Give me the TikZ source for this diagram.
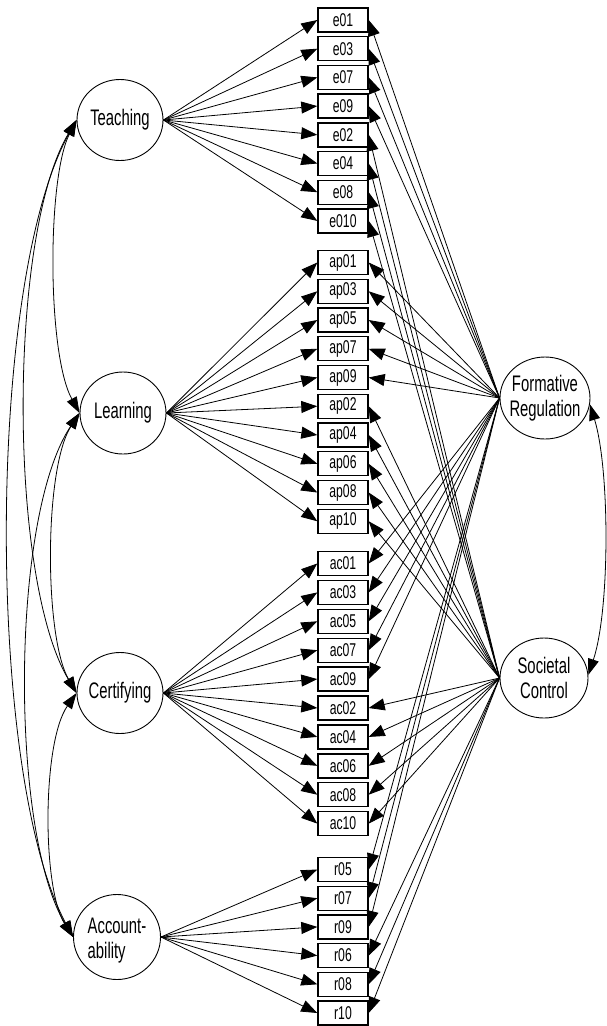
\documentclass[tikz,border=0pt]{standalone}
\usepackage{fontspec}
\setmainfont{Liberation Sans}[FakeStretch=0.66]
\usetikzlibrary{arrows.meta,shapes.geometric}
\begin{document}
\begin{tikzpicture}[x=1pt,y={(0pt,-1pt)},
  ind/.style={draw,fill=white,line width=1.4pt,minimum width=50pt,minimum height=24pt,inner sep=0pt,font=\fontsize{18.5}{20}\selectfont},
  lat/.style={draw,ellipse,line width=0.9pt,inner sep=0pt},
  lbl/.style={inner sep=0pt,font=\fontsize{22.5}{25}\selectfont,align=center},
  arr/.style={line width=0.8pt,-{Triangle[length=16pt,width=12pt]}},
  cov/.style={line width=0.8pt,{Triangle[length=16pt,width=11pt]}-{Triangle[length=16pt,width=11pt]}}
]
\useasboundingbox (0,0) rectangle (606,1026);

% latent variables
\node[lat,minimum width=86pt,minimum height=81pt] (T) at (120,120) {};
\node[lbl] (Tt) at (T) {Teaching};
\node[lat,minimum width=86pt,minimum height=82pt] (L) at (123,413) {};
\node[lbl] (Lt) at (L) {Learning};
\node[lat,minimum width=86pt,minimum height=81pt] (C) at (120,693) {};
\node[lbl] (Ct) at (C) {Certifying};
\node[lat,minimum width=87pt,minimum height=85pt] (A) at (117,937) {};
\node[lbl,align=left] (At) at ([yshift=-4pt]A.center) {Account-\\ability};
\node[lat,minimum width=90pt,minimum height=82pt] (F) at (545,398) {};
\node[lbl] (Ft) at (F) {Formative\\Regulation};
\node[lat,minimum width=88pt,minimum height=80pt] (S) at (544,678) {};
\node[lbl] (St) at (S) {Societal\\Control};

% indicators
\foreach \n [count=\i from 0] in {e01,e03,e07,e09,e02,e04,e08,e010}
  {\node[ind] (\n) at (343,{20+28.7*\i}) {\n};
   \draw[arr] (T.east) -- (\n.west);}
\foreach \n [count=\i from 0] in {ap01,ap03,ap05,ap07,ap09,ap02,ap04,ap06,ap08,ap10}
  {\node[ind] (\n) at (343,{262.5+28.75*\i}) {\n};
   \draw[arr] (L.east) -- (\n.west);}
\foreach \n [count=\i from 0] in {ac01,ac03,ac05,ac07,ac09,ac02,ac04,ac06,ac08,ac10}
  {\node[ind] (\n) at (343,{563.5+28.9*\i}) {\n};
   \draw[arr] (C.east) -- (\n.west);}
\foreach \n [count=\i from 0] in {r05,r07,r09,r06,r08,r10}
  {\node[ind] (\n) at (343,{869.5+28.7*\i}) {\n};
   \draw[arr] (A.east) -- (\n.west);}

% loadings on the two general factors
\foreach \n in {e01,e03,e07,e09,ap01,ap03,ap05,ap07,ap09,ac01,ac03,ac05,ac07,ac09,r05,r07,r09}
  \draw[arr] (F.west) -- (\n.east);
\foreach \n in {e02,e04,e08,e010,ap02,ap04,ap06,ap08,ap10,ac02,ac04,ac06,ac08,ac10,r06,r08,r10}
  \draw[arr] (S.west) -- (\n.east);

% covariances
\draw[cov] (T.west) .. controls (47,178) and (47,354) .. (L.west);
\draw[cov] (T.west) .. controls (8,235) and (8,578) .. (C.west);
\draw[cov] (T.west) .. controls (-14,283) and (-14,774) .. (A.west);
\draw[cov] (L.west) .. controls (44,468) and (44,637) .. (C.west);
\draw[cov] (L.west) .. controls (10,517) and (10,832) .. (A.west);
\draw[cov] (C.west) .. controls (42,742) and (42,888) .. (A.west);
\draw[cov] (F.-8) .. controls (610,470) and (610,610) .. (S.4);
\end{tikzpicture}
\end{document}
